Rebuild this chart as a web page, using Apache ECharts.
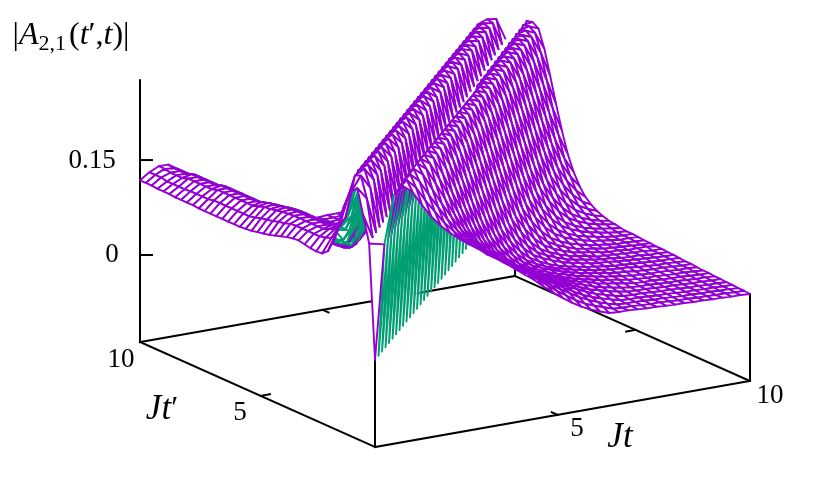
<!DOCTYPE html>
<html><head><meta charset="utf-8">
<style>html,body{margin:0;padding:0;background:#fff}#c{width:830px;height:495px}</style>
<script src="https://cdn.jsdelivr.net/npm/echarts@6/dist/echarts.min.js"></script>
</head><body><div id="c"></div>
<script>
const tValues = [0,0.25,0.5,0.75,1,1.25,1.5,1.75,2,2.25,2.5,2.75,3,3.25,3.5,3.75,4,4.25,4.5,4.75,5,5.25,5.5,5.75,6,6.25,6.5,6.75,7,7.25,7.5,7.75,8,8.25,8.5,8.75,9,9.25,9.5,9.75,10];
const tPrimeValues = tValues;
// |A| in thousandths, one row per t' value, one column per t value
const zRows = [
[0,180,255,267,255,232,211,194,180,168,157,147,135,126,116,104,93,82,69,57,46,36,27,20,14,9,8,8,7,6,6,5,4,4,3,3,2,2,1,1,0],
[180,0,181,255,270,255,232,212,192,176,161,150,139,128,118,109,97,87,76,64,53,43,33,25,19,14,9,8,8,7,6,6,5,4,4,3,3,2,2,1,1],
[220,182,0,183,258,272,258,234,212,190,171,154,142,130,118,108,99,89,79,69,58,49,40,31,24,18,13,9,8,8,7,6,6,5,4,4,3,3,2,2,1],
[259,240,183,0,185,259,274,262,236,211,188,166,147,132,120,108,98,90,80,71,62,53,44,36,28,22,17,13,9,8,8,7,6,6,5,4,4,3,3,2,2],
[250,272,250,185,0,186,260,276,264,238,211,184,160,139,123,110,98,88,80,71,63,55,47,39,33,26,20,16,12,9,8,8,7,6,6,5,4,4,3,3,2],
[205,268,276,256,186,0,188,259,276,266,239,210,181,154,131,114,100,88,79,71,62,56,48,41,35,29,23,19,15,12,9,8,8,7,6,6,5,4,4,3,3],
[188,235,270,276,257,188,0,189,259,276,268,240,208,178,149,125,107,92,79,71,63,56,49,43,36,31,26,21,17,14,11,9,8,8,7,6,6,5,4,4,3],
[160,208,242,270,276,257,189,0,191,258,276,268,241,208,175,145,119,100,85,72,64,56,49,44,38,32,27,24,19,16,14,11,9,8,8,7,6,6,5,4,4],
[139,168,210,244,270,276,258,190,0,192,258,276,269,241,207,173,141,114,94,78,65,57,50,43,38,33,28,24,21,17,15,13,10,9,8,8,7,6,6,5,4],
[131,153,172,210,243,270,276,258,192,0,194,258,276,270,241,206,171,138,110,89,73,60,52,45,39,34,30,25,22,19,16,14,12,10,9,8,8,7,6,6,5],
[130,149,160,172,210,242,270,276,259,194,0,195,258,276,270,241,205,170,136,107,85,69,56,48,41,36,31,27,23,20,18,15,13,12,10,9,8,8,7,6,6],
[131,147,156,160,172,205,242,270,276,259,195,0,197,258,276,270,241,205,168,134,104,82,65,52,44,37,32,28,24,21,18,16,14,13,12,10,9,8,8,7,6],
[133,147,152,156,152,165,203,242,270,276,260,197,0,198,258,276,270,242,205,167,132,101,79,62,49,41,34,29,25,22,19,17,15,13,12,11,10,9,8,8,7],
[135,147,152,152,148,140,163,203,242,270,276,260,198,0,200,258,276,270,242,204,167,131,100,77,60,47,39,33,28,24,21,18,16,15,13,12,11,10,9,8,8],
[134,147,152,152,146,135,131,163,203,242,270,276,261,200,0,201,258,276,270,242,204,166,130,98,75,58,45,37,31,26,22,20,17,15,14,12,11,11,9,9,8],
[132,147,152,152,146,132,112,128,163,203,242,270,276,261,201,0,203,258,276,270,242,204,165,128,97,74,56,43,35,29,24,21,19,15,14,13,12,11,11,9,9],
[129,146,152,152,146,132,108,101,126,163,203,242,270,276,262,203,0,204,259,276,270,242,204,165,128,96,73,55,42,34,28,23,20,18,15,13,13,11,11,11,9],
[126,143,152,152,146,132,108,95,98,125,163,203,242,270,276,262,204,0,206,259,276,270,242,204,164,127,95,72,54,41,33,27,22,19,17,14,13,12,11,10,10],
[123,141,151,152,146,132,108,94,89,97,125,163,203,242,270,276,263,206,0,207,259,276,270,242,203,164,127,94,71,53,40,32,26,22,18,16,14,12,12,11,10],
[121,138,150,151,146,132,108,94,86,81,93,125,163,203,242,270,276,263,207,0,209,259,276,270,242,203,164,127,94,71,53,40,32,26,22,18,16,14,12,12,11],
[119,136,148,150,145,131,108,94,86,77,73,92,125,163,203,242,270,276,264,209,0,210,260,276,270,242,203,164,126,94,70,52,39,31,25,21,18,15,13,12,12],
[117,134,146,148,143,129,107,94,86,77,68,71,92,125,163,203,242,270,276,264,210,0,212,260,276,270,242,203,164,126,94,70,52,39,31,25,21,18,15,13,12],
[116,131,145,146,141,126,105,93,86,77,66,59,68,92,125,163,203,242,270,276,265,212,0,213,260,276,270,242,203,163,126,93,69,51,38,30,24,20,17,15,13],
[115,129,142,145,139,124,103,92,85,77,66,56,53,68,92,125,163,203,242,270,276,265,213,0,215,261,276,270,242,203,163,125,93,69,51,38,30,24,20,17,15],
[115,129,139,142,137,122,101,90,83,76,66,56,47,50,68,92,125,163,203,242,270,276,266,215,0,216,267,276,270,242,203,163,125,92,68,50,37,29,23,19,16],
[115,129,139,139,134,120,100,88,82,75,66,56,45,40,50,68,92,125,163,203,242,270,276,267,216,0,218,268,276,270,242,203,163,125,92,68,50,37,29,23,19],
[115,129,139,139,132,118,98,87,80,73,64,55,45,36,37,50,68,92,125,163,203,242,270,276,267,218,0,219,268,276,270,242,203,163,125,92,68,50,37,29,23],
[115,129,139,139,132,116,96,85,79,72,63,54,45,35,31,37,50,68,92,125,163,203,242,270,276,268,219,0,221,269,276,270,242,203,163,125,92,68,50,37,29],
[115,129,139,139,132,116,94,84,78,71,62,53,44,35,27,29,37,50,68,92,125,163,203,242,270,276,268,221,0,222,269,276,270,242,203,163,125,92,68,50,37],
[115,129,139,139,132,116,94,82,76,70,61,52,43,34,25,24,29,37,50,68,92,125,163,203,242,270,276,269,222,0,224,270,276,270,242,203,163,125,92,68,50],
[115,127,139,139,132,116,94,82,74,68,60,51,42,34,25,21,23,29,37,50,68,92,125,163,203,242,270,276,269,224,0,225,270,276,270,242,203,163,125,92,68],
[116,127,136,139,132,116,94,82,74,67,59,50,41,33,24,19,19,23,29,37,50,68,92,125,163,203,242,270,276,270,225,0,227,271,276,270,242,203,163,125,92],
[116,127,136,136,132,116,94,82,74,67,58,49,41,33,24,17,16,19,23,29,37,50,68,92,125,163,203,242,270,276,270,227,0,228,271,276,270,242,203,163,125],
[116,127,136,136,129,116,94,82,74,67,58,48,40,32,24,17,15,16,19,23,29,37,50,68,92,125,163,203,242,270,276,271,228,0,230,272,276,270,242,203,163],
[116,126,136,136,129,113,94,82,74,67,58,48,39,31,23,17,13,14,16,19,23,29,37,50,68,92,125,163,203,242,270,276,271,230,0,231,272,276,270,242,203],
[117,126,136,136,129,113,92,82,74,67,58,48,39,31,23,16,12,12,14,16,19,23,29,37,50,68,92,125,163,203,242,270,276,272,231,0,233,273,276,270,242],
[117,126,133,136,129,113,92,82,74,67,58,48,39,31,22,16,12,11,12,14,16,19,23,29,37,50,68,92,125,163,203,242,270,276,272,233,0,234,273,276,270],
[117,126,133,133,129,113,92,82,74,67,58,48,39,31,22,16,11,11,11,12,14,16,19,23,29,37,50,68,92,125,163,203,242,270,276,273,234,0,236,274,276],
[118,128,133,133,126,113,92,82,74,67,58,48,39,31,22,16,11,10,11,11,12,14,16,19,23,29,37,50,68,92,125,163,203,242,270,276,273,236,0,237,274],
[118,128,135,133,126,110,92,82,74,67,58,48,39,31,22,16,11,10,10,11,11,12,14,16,19,23,29,37,50,68,92,125,163,203,242,270,276,274,237,0,239],
[118,128,135,135,126,110,92,82,74,67,58,48,39,31,22,16,11,10,10,10,11,11,12,14,16,19,23,29,37,50,68,92,125,163,203,242,270,276,274,239,0]
];
zRows.forEach((r,i)=>{ if(r.length!==41) throw new Error('row '+i+' has '+r.length); });
const tTicks = [4.87], tTickLabels = ['5','10'];
const zTicks = [0,0.15], zTickLabels = ['0','0.15'];

const BOX = {x0:375,y0:447,tx:37.5,ty:-6.6,px:-23.5,py:-10.5,zs:633,zOff:87,zTop:0.276};
const PURPLE='#9400d3', GREEN='#009e73';
function project(t,tp,z){
  return [BOX.x0+BOX.tx*t+BOX.px*tp, BOX.y0+BOX.ty*t+BOX.py*tp-BOX.zOff-BOX.zs*z];
}
function floor(t,tp){ return project(t,tp,-BOX.zOff/BOX.zs); }
const zAt=(i,j)=>zRows[i][j]/1000;

const cells=[];
for(let i=0;i<40;i++)for(let j=0;j<40;j++)cells.push([i,j]);
cells.sort((a,b)=>(6.6*b[1]+10.5*b[0])-(6.6*a[1]+10.5*a[0]));

const seg=[];
function add(a,b){seg.push([a[0],a[1],b[0],b[1]]);}
add(floor(0,10),floor(0,0));add(floor(0,0),floor(10,0));add(floor(10,0),floor(10,10));add(floor(10,10),floor(0,10));
add(floor(0,10),project(0,10,BOX.zTop));
add(floor(0,0),project(0,0,zAt(0,0)));
add(floor(10,0),project(10,0,zAt(0,40)));
add(floor(10,10),project(10,10,zAt(40,40)));
tTicks.forEach(v=>{
  add(floor(v,0),floor(v,0.25));
  add(floor(v,10),floor(v,9.75));
  add(floor(0,v),floor(0.25,v));
  add(floor(10,v),floor(9.75,v));
});
zTicks.forEach(v=>{ const p=project(0,10,v); add(p,[p[0]+12,p[1]]); });

function txt(x,y,t,size,extra){
  return {type:'text',silent:true,z:50,style:Object.assign({x:x,y:y,text:t,fill:'#000',
    font:size+'px "Liberation Serif"',textAlign:'center',textVerticalAlign:'middle'},extra||{})};
}
const I='italic ';
const graphics=[
 txt(92,161,zTickLabels[1],27),
 txt(112,255,zTickLabels[0],27),
 txt(121,360,tTickLabels[1],27),
 txt(240,413,tTickLabels[0],27),
 txt(577,429,tTickLabels[0],27),
 txt(770,396,tTickLabels[1],27),
 txt(162,410,'',32,{
   text:'{i|Jt}{p|′}',rich:{i:{font:I+'35px "Liberation Serif"',fill:'#000'},p:{font:'32px "Liberation Serif"',fill:'#000'}}}),
 txt(620,438,'',32,{
   text:'{i|Jt}',rich:{i:{font:I+'35px "Liberation Serif"',fill:'#000'}}}),
 txt(71,36,'',30,{
   text:'{n||}{i|A}{s|2,1}{n|(}{i|t}{n|′,}{i|t}{n|)|}',
   rich:{n:{font:'32px "Liberation Serif"',fill:'#000',lineHeight:38},
         i:{font:I+'32px "Liberation Serif"',fill:'#000',lineHeight:38},
         s:{font:'22px "Liberation Serif"',fill:'#000',verticalAlign:'bottom',lineHeight:32,padding:[0,3,0,0]}}})
];

const chart=echarts.init(document.getElementById('c'),null,{renderer:'canvas'});
chart.setOption({
 animation:false,
 backgroundColor:'#fff',
 grid:{left:0,right:0,top:0,bottom:0},
 xAxis:{type:'value',min:0,max:830,show:false},
 yAxis:{type:'value',min:0,max:495,inverse:true,show:false},
 graphic:graphics,
 series:[
  {type:'custom',coordinateSystem:'cartesian2d',silent:true,z:1,clip:false,
   data:seg,encode:{x:[0,2],y:[1,3]},
   renderItem:(p,api)=>{
     const a=api.coord([api.value(0),api.value(1)]),b=api.coord([api.value(2),api.value(3)]);
     return {type:'line',shape:{x1:a[0],y1:a[1],x2:b[0],y2:b[1]},style:{stroke:'#000',lineWidth:2,lineCap:'square'}};
   }},
  {type:'custom',coordinateSystem:'cartesian2d',silent:true,z:2,clip:false,progressive:0,
   data:cells,encode:{x:0,y:1},
   renderItem:(p,api)=>{
     const i=api.value(0),j=api.value(1);
     const raw=[[j,i],[j+1,i],[j+1,i+1],[j,i+1]].map(c=>project(tValues[c[0]],tPrimeValues[c[1]],zAt(c[1],c[0])));
     if(i===j){
       const tri=[raw[0],raw[1],raw[3]].map(q=>api.coord(q));
       return {type:'polygon',shape:{points:tri},
         style:{fill:'#fff',stroke:i===0?PURPLE:null,lineWidth:i===0?1.9:0,lineJoin:'round'}};
     }
     const pts=raw.map(q=>api.coord(q));
     if(i===j+1){
       // cell touching the valley floor on its far side: only the upper edges show
       return {type:'group',children:[
         {type:'polygon',shape:{points:pts},style:{fill:'#fff',stroke:null}},
         {type:'polyline',shape:{points:[pts[2],pts[3],pts[0]]},style:{fill:null,stroke:PURPLE,lineWidth:1.9,lineJoin:'round'}}
       ]};
     }
     let area=0;
     raw.forEach((q,n)=>{const r=raw[(n+1)%4];area+=q[0]*r[1]-r[0]*q[1];});
     const backFacing=area>(i>j?30:130);
     return {type:'polygon',shape:{points:pts},
       style:{fill:'#fff',stroke:backFacing?GREEN:PURPLE,lineWidth:1.9,lineJoin:'round'}};
   }}
 ]
});
</script></body></html>
